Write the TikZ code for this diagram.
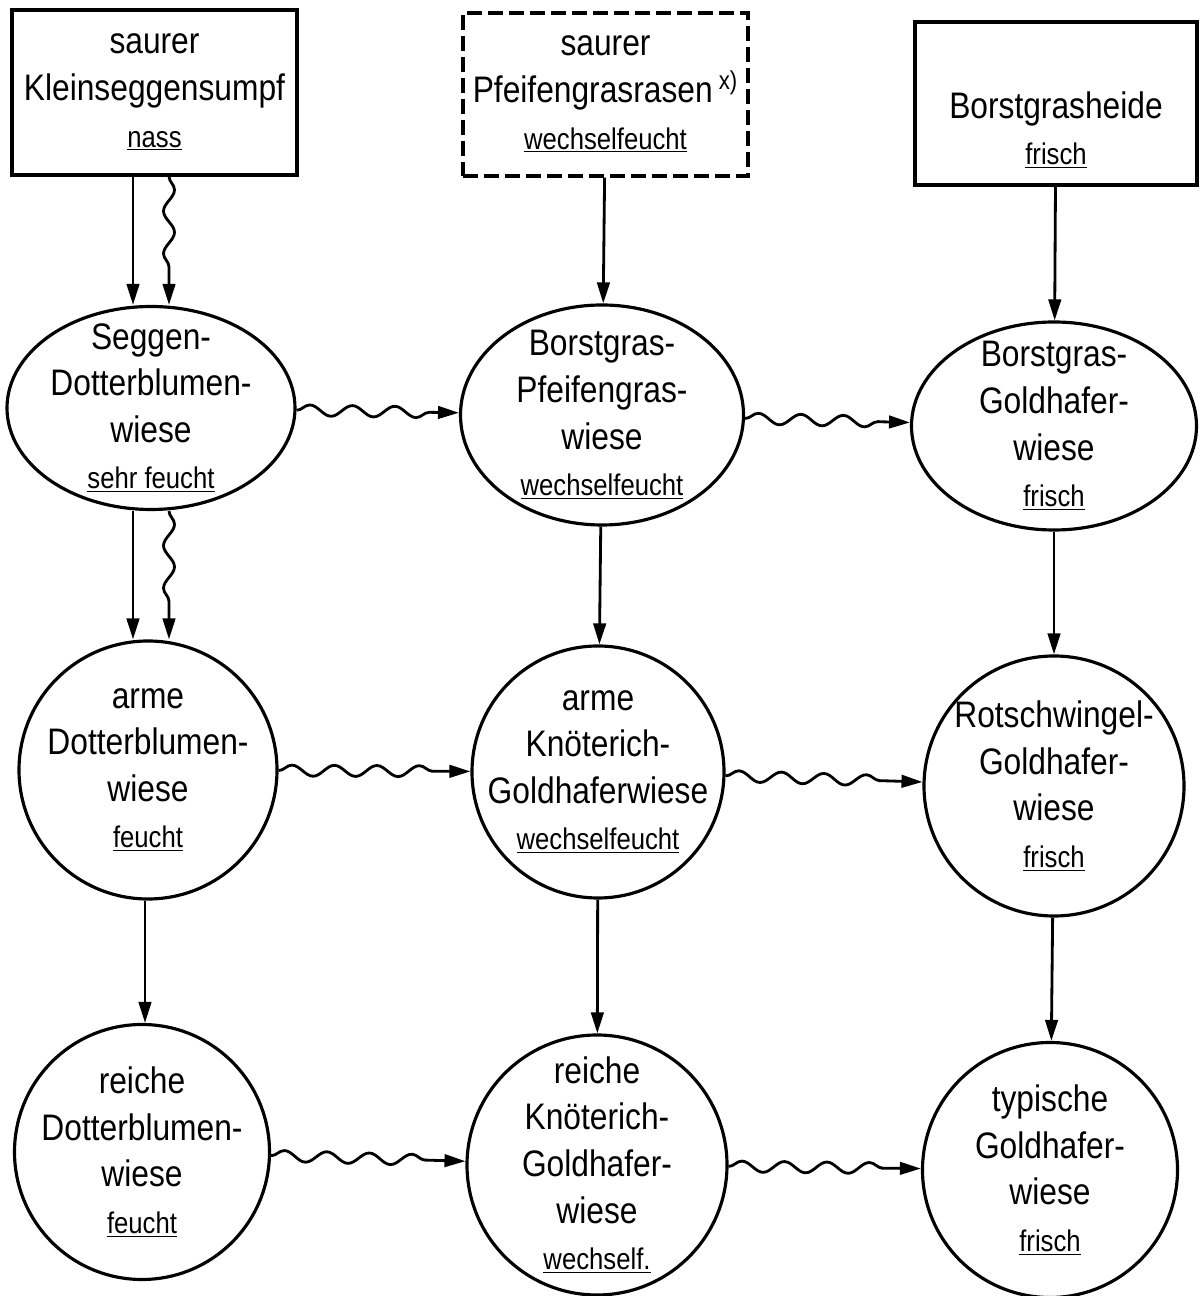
\documentclass[tikz,border=0pt]{standalone}
\usepackage{fontspec}
\setmainfont{Liberation Sans}[FakeStretch=0.86]
\usepackage{tikz}
\usetikzlibrary{shapes.geometric}
\usetikzlibrary{arrows.meta}
\usetikzlibrary{decorations.pathmorphing}
\tikzset{
  biotop/.style={draw=black,line width=1.8pt,inner sep=0pt},
  kasten/.style={biotop,rectangle},
  oval/.style={biotop,ellipse},
  kreis/.style={biotop,circle},
  lbl/.style={align=center,inner sep=0pt,font=\fontsize{21}{26.5}\selectfont},
  folge/.style={line width=1.6pt,-{Triangle[length=0.42cm,width=0.25cm]}},
  welle/.style={folge,decorate,decoration={snake,segment length=0.85cm,amplitude=0.11cm,post length=0.48cm}}
}
\newcommand{\feuchte}[1]{{\fontsize{17}{26.5}\selectfont\underline{#1}}}

\begin{document}
\begin{tikzpicture}
    \useasboundingbox (0,0) rectangle (24.04,25.92);
    % Ausgangsgesellschaften
    \node[kasten,minimum width=5.7cm,minimum height=3.3cm,
      label={[lbl]center:{saurer\\Kleinseggensumpf\\\feuchte{nass}}}] (kleinsegg) at (3.09,24.07) {};
    \node[kasten,dash pattern=on 0.3cm off 0.12cm,minimum width=5.7cm,minimum height=3.26cm,
      label={[lbl]center:{saurer\\Pfeifengrasrasen\,\textsuperscript{x)}\\\feuchte{wechselfeucht}}}] (pfeifenrasen) at (12.11,24.03) {};
    \node[kasten,minimum width=5.64cm,minimum height=3.26cm,
      label={[lbl,yshift=-0.53cm]center:{Borstgrasheide\\\feuchte{frisch}}}] (borstheide) at (21.12,23.85) {};
    % erste Reihe
    \node[oval,minimum width=5.76cm,minimum height=4.06cm,
      label={[lbl]center:{Seggen-\\Dotterblumen-\\wiese\\\feuchte{sehr feucht}}}] (seggdotter) at (3.02,17.76) {};
    \node[oval,minimum width=5.66cm,minimum height=4.4cm,
      label={[lbl]center:{Borstgras-\\Pfeifengras-\\wiese\\\feuchte{wechselfeucht}}}] (borstpfeif) at (12.04,17.62) {};
    \node[oval,minimum width=5.7cm,minimum height=4.16cm,
      label={[lbl]center:{Borstgras-\\Goldhafer-\\wiese\\\feuchte{frisch}}}] (borstgold) at (21.08,17.4) {};
    % zweite Reihe
    \node[kreis,minimum size=5.16cm,
      label={[lbl]center:{arme\\Dotterblumen-\\wiese\\\feuchte{feucht}}}] (armedotter) at (2.96,10.52) {};
    \node[kreis,minimum size=5.04cm,
      label={[lbl]center:{arme\\Knöterich-\\Goldhaferwiese\\\feuchte{wechselfeucht}}}] (armeknoet) at (11.96,10.48) {};
    \node[kreis,minimum size=5.2cm,
      label={[lbl]center:{Rotschwingel-\\Goldhafer-\\wiese\\\feuchte{frisch}}}] (rotgold) at (21.08,10.2) {};
    % dritte Reihe
    \node[kreis,minimum size=5.1cm,
      label={[lbl]center:{reiche\\Dotterblumen-\\wiese\\\feuchte{feucht}}}] (reichedotter) at (2.84,2.88) {};
    \node[kreis,minimum size=5.2cm,
      label={[lbl]center:{reiche\\Knöterich-\\Goldhafer-\\wiese\\\feuchte{wechself.}}}] (reicheknoet) at (11.94,2.62) {};
    \node[kreis,minimum size=5.1cm,
      label={[lbl]center:{typische\\Goldhafer-\\wiese\\\feuchte{frisch}}}] (typgold) at (21.0,2.52) {};

    \coordinate (gerade) at (2.66,0);
    \coordinate (wellig) at (3.38,0);
    \coordinate (gerade2) at (2.9,0);

    % senkrechte Folgen
    \draw[folge] (kleinsegg.south -| gerade) -- (seggdotter.north -| gerade);
    \draw[welle] (kleinsegg.south -| wellig) -- (seggdotter.north -| wellig);
    \draw[folge] (seggdotter.south -| gerade) -- (armedotter.north -| gerade);
    \draw[welle] (seggdotter.south -| wellig) -- (armedotter.north -| wellig);
    \draw[folge] (armedotter.south -| gerade2) -- (reichedotter.north -| gerade2);
    \draw[folge] (pfeifenrasen) -- (borstpfeif);
    \draw[folge] (borstpfeif) -- (armeknoet);
    \draw[folge] (armeknoet) -- (reicheknoet);
    \draw[folge] (borstheide) -- (borstgold);
    \draw[folge] (borstgold) -- (rotgold);
    \draw[folge] (rotgold) -- (typgold);
    % waagerechte Folgen
    \draw[welle] (seggdotter) -- (borstpfeif);
    \draw[welle] (borstpfeif) -- (borstgold);
    \draw[welle] (armedotter) -- (armeknoet);
    \draw[welle] (armeknoet) -- (rotgold);
    \draw[welle] (reichedotter) -- (reicheknoet);
    \draw[welle] (reicheknoet) -- (typgold);
\end{tikzpicture}
\end{document}
